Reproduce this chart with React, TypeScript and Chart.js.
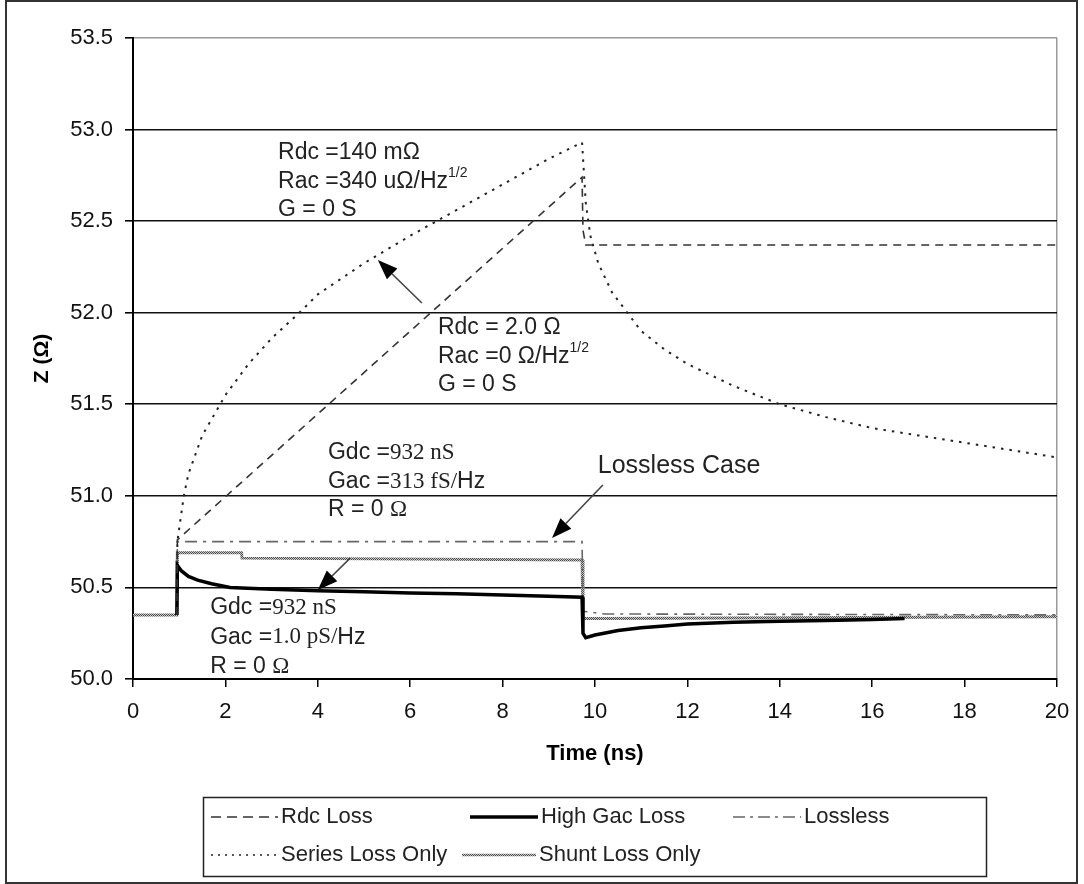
import React, { useEffect, useRef } from 'react';
import { Chart, registerables } from 'chart.js';
Chart.register(...registerables);

// ---- data (Time in ns, Z in ohms) ----
const rdcTime = [0.95, 0.96, 9.72, 9.74, 9.8, 20];
const rdcZ = [50.35, 50.76, 52.74, 52.45, 52.37, 52.37];

const hgTime = [0.95, 0.96, 1.05, 1.2, 1.4, 1.7, 2.1, 3.0, 4.0, 5.0, 6.0, 7.0, 8.0, 9.0, 9.72, 9.74, 9.8, 10.0, 10.5, 11.0, 11.5, 12.0, 13.0, 14.0, 15.0, 16.0, 16.7];
const hgZ = [50.35, 50.62, 50.59, 50.56, 50.54, 50.52, 50.5, 50.49, 50.482, 50.476, 50.47, 50.465, 50.458, 50.452, 50.447, 50.25, 50.225, 50.24, 50.265, 50.28, 50.29, 50.3, 50.31, 50.315, 50.32, 50.325, 50.33];

const losslessTime = [0.95, 0.96, 9.72, 9.74, 10.2, 20];
const losslessZ = [50.35, 50.75, 50.75, 50.37, 50.355, 50.35];

const seriesTime = [0.95, 0.96, 1.1, 1.2, 1.5, 2.0, 2.5, 3.0, 3.6, 4.0, 5.0, 6.0, 7.0, 8.0, 9.0, 9.72, 9.8, 9.9, 10.07, 10.37, 11.0, 11.5, 12.0, 13.0, 14.0, 15.0, 16.0, 17.0, 18.0, 19.0, 20.0];
const seriesZ = [50.35, 50.75, 51.0, 51.12, 51.33, 51.55, 51.72, 51.86, 52.0, 52.1, 52.27, 52.42, 52.56, 52.7, 52.84, 52.93, 52.6, 52.42, 52.27, 52.11, 51.9, 51.8, 51.72, 51.6, 51.5, 51.43, 51.37, 51.33, 51.29, 51.25, 51.21];

const shuntTime = [0, 0.95, 0.96, 2.35, 2.36, 9.72, 9.74, 10.0, 20];
const shuntZ = [50.35, 50.35, 50.69, 50.69, 50.66, 50.65, 50.33, 50.33, 50.34];

const seriesLabels = ['Rdc Loss', 'High Gac Loss', 'Lossless', 'Series Loss Only', 'Shunt Loss Only'];
const xTicks = [0, 2, 4, 6, 8, 10, 12, 14, 16, 18, 20];
const yTicks = ['50.0', '50.5', '51.0', '51.5', '52.0', '52.5', '53.0', '53.5'];

const SANS = '"Liberation Sans", Arial, sans-serif';
const SERIF = '"Liberation Serif", "Times New Roman", serif';

type Seg = { text: string; serif?: boolean; sup?: boolean };
type Note = { t: number; z: number; size: number; gap: number; lines: Seg[][] };

const notes: Note[] = [
  {
    t: 3.14, z: 52.872, size: 23, gap: 28.5,
    lines: [
      [{ text: 'Rdc =140 mΩ' }],
      [{ text: 'Rac =340 uΩ/Hz' }, { text: '1/2', sup: true }],
      [{ text: 'G = 0 S' }],
    ],
  },
  {
    t: 6.6, z: 51.917, size: 23, gap: 28.5,
    lines: [
      [{ text: 'Rdc = 2.0 Ω' }],
      [{ text: 'Rac =0 Ω/Hz' }, { text: '1/2', sup: true }],
      [{ text: 'G = 0 S' }],
    ],
  },
  {
    t: 4.22, z: 51.234, size: 23, gap: 28.5,
    lines: [
      [{ text: 'Gdc =' }, { text: '932 nS', serif: true }],
      [{ text: 'Gac =' }, { text: '313 fS/', serif: true }, { text: 'Hz' }],
      [{ text: 'R = 0 ' }, { text: 'Ω', serif: true }],
    ],
  },
  {
    t: 10.06, z: 51.163, size: 25, gap: 28,
    lines: [[{ text: 'Lossless Case' }]],
  },
  {
    t: 1.67, z: 50.388, size: 23, gap: 29.5,
    lines: [
      [{ text: 'Gdc =' }, { text: '932 nS', serif: true }],
      [{ text: 'Gac =' }, { text: '1.0 pS/', serif: true }, { text: 'Hz' }],
      [{ text: 'R = 0 ' }, { text: 'Ω', serif: true }],
    ],
  },
];

// arrows: from (t0,z0) to tip (t1,z1)
const arrows = [
  { t0: 6.253, z0: 52.053, t1: 5.3, z1: 52.288 },
  { t0: 10.17, z0: 51.059, t1: 9.07, z1: 50.77 },
  { t0: 4.7, z0: 50.66, t1: 4.0, z1: 50.486 },
];

function pts(t: number[], z: number[]) {
  return t.map((v, i) => ({ x: v, y: z[i] }));
}

function makePattern(ctx: CanvasRenderingContext2D) {
  const c = document.createElement('canvas');
  c.width = 2; c.height = 2;
  const p = c.getContext('2d')!;
  p.fillStyle = '#c8c8c8'; p.fillRect(0, 0, 2, 2);
  p.fillStyle = '#4a4a4a'; p.fillRect(0, 0, 1, 1); p.fillRect(1, 1, 1, 1);
  return ctx.createPattern(c, 'repeat')!;
}

const decorPlugin = {
  id: 'decor',
  afterDraw(chart: any) {
    const ctx: CanvasRenderingContext2D = chart.ctx;
    const xs = chart.scales.x, ys = chart.scales.y;
    ctx.save();
    // notes
    ctx.fillStyle = '#222';
    ctx.textBaseline = 'middle';
    ctx.textAlign = 'left';
    for (const n of notes) {
      const x0 = xs.getPixelForValue(n.t);
      const y0 = ys.getPixelForValue(n.z);
      n.lines.forEach((line, li) => {
        let x = x0;
        const y = y0 + li * n.gap;
        for (const s of line) {
          const sz = s.sup ? Math.round(n.size * 0.6) : n.size;
          ctx.font = `${sz}px ${s.serif ? SERIF : SANS}`;
          ctx.fillText(s.text, x, s.sup ? y - n.size * 0.38 : y);
          x += ctx.measureText(s.text).width;
        }
      });
    }
    // arrows
    for (const a of arrows) {
      const x0 = xs.getPixelForValue(a.t0), y0 = ys.getPixelForValue(a.z0);
      const x1 = xs.getPixelForValue(a.t1), y1 = ys.getPixelForValue(a.z1);
      const ang = Math.atan2(y1 - y0, x1 - x0);
      const L = 20, W = 7.5;
      const bx = x1 - L * Math.cos(ang), by = y1 - L * Math.sin(ang);
      ctx.strokeStyle = '#444';
      ctx.lineWidth = 1.6;
      ctx.setLineDash([]);
      ctx.beginPath(); ctx.moveTo(x0, y0); ctx.lineTo(bx, by); ctx.stroke();
      ctx.fillStyle = '#000';
      ctx.beginPath();
      ctx.moveTo(x1, y1);
      ctx.lineTo(bx + W * Math.sin(ang), by - W * Math.cos(ang));
      ctx.lineTo(bx - W * Math.sin(ang), by + W * Math.cos(ang));
      ctx.closePath(); ctx.fill();
    }
    // legend
    ctx.strokeStyle = '#222';
    ctx.lineWidth = 1.5;
    ctx.setLineDash([]);
    ctx.strokeRect(203.5, 797.5, 783, 79);
    const slots = [
      { x0: 211, x1: 278, y: 817 },
      { x0: 470, x1: 538, y: 817 },
      { x0: 733, x1: 801, y: 817 },
      { x0: 211, x1: 278, y: 855 },
      { x0: 462, x1: 536, y: 855 },
    ];
    const legendDash = [[10, 6], [], [12, 5, 3, 5], [2, 5], []];
    chart.data.datasets.forEach((ds: any, i: number) => {
      const s = slots[i];
      ctx.save();
      ctx.strokeStyle = ds.borderColor;
      ctx.lineWidth = i === 1 ? 3.5 : i === 4 ? 2.5 : 1.5;
      ctx.setLineDash(legendDash[i]);
      ctx.beginPath(); ctx.moveTo(s.x0, s.y); ctx.lineTo(s.x1, s.y); ctx.stroke();
      ctx.restore();
      ctx.fillStyle = '#222';
      ctx.font = `22px ${SANS}`;
      ctx.textBaseline = 'middle';
      ctx.fillText(ds.label, s.x1 + 3, s.y);
    });
    // outer border
    ctx.strokeStyle = '#333';
    ctx.lineWidth = 2;
    ctx.strokeRect(6, 1, 1071, 882);
    ctx.restore();
  },
};

export default function App() {
  const ref = useRef<HTMLCanvasElement>(null);
  useEffect(() => {
    document.body.style.margin = '0';
    const canvas = ref.current!;
    const ctx = canvas.getContext('2d')!;
    const pattern = makePattern(ctx);
    const chart = new Chart(canvas, {
      type: 'line',
      data: {
        datasets: [
          { label: seriesLabels[0], data: pts(rdcTime, rdcZ), borderColor: '#333', borderWidth: 1.6, borderDash: [8, 6] },
          { label: seriesLabels[1], data: pts(hgTime, hgZ), borderColor: '#000', borderWidth: 3.5 },
          { label: seriesLabels[2], data: pts(losslessTime, losslessZ), borderColor: '#666', borderWidth: 1.6, borderDash: [12, 6, 3, 6] },
          { label: seriesLabels[3], data: pts(seriesTime, seriesZ), borderColor: '#222', borderWidth: 2, borderDash: [2.5, 6] },
          { label: seriesLabels[4], data: pts(shuntTime, shuntZ), borderColor: pattern as any, borderWidth: 3 },
        ] as any,
      },
      options: {
        animation: false,
        responsive: false,
        devicePixelRatio: 1,
        layout: { padding: { left: 0, top: 38, right: 27, bottom: 105 } },
        elements: { point: { radius: 0 }, line: { tension: 0, fill: false } },
        plugins: { legend: { display: false }, tooltip: { enabled: false } },
        scales: {
          x: {
            type: 'linear',
            min: 0,
            max: 20,
            afterBuildTicks: (s: any) => { s.ticks = xTicks.map((v) => ({ value: v })); },
            afterFit: (s: any) => { s.height = 100; },
            ticks: { color: '#111', font: { family: SANS, size: 22 }, padding: 12, maxRotation: 0, autoSkip: false },
            grid: {
              drawOnChartArea: true,
              color: (c: any) => (c.tick && c.tick.value === 20 ? '#999' : 'rgba(0,0,0,0)'),
              tickColor: '#000',
              lineWidth: 1.5,
              tickLength: 8,
            },
            border: { color: '#000', width: 2 },
            title: { display: true, text: 'Time (ns)', color: '#000', font: { family: SANS, size: 22, weight: 'bold' }, padding: { top: 0, bottom: 12 } },
          },
          y: {
            type: 'linear',
            min: 50,
            max: 53.5,
            afterBuildTicks: (s: any) => { s.ticks = yTicks.map((v) => ({ value: parseFloat(v) })); },
            afterFit: (s: any) => { s.width = 133; },
            ticks: {
              color: '#111',
              font: { family: SANS, size: 22 },
              padding: 12,
              callback: (v: any) => yTicks.find((t) => parseFloat(t) === v) ?? '',
            },
            grid: {
              color: (c: any) => (c.tick && c.tick.value === 53.5 ? '#999' : '#111'),
              tickColor: '#000',
              lineWidth: 1.6,
              tickLength: 8,
            },
            border: { color: '#000', width: 2 },
            title: { display: true, text: 'Z (Ω)', color: '#000', font: { family: SANS, size: 21, weight: 'bold' }, padding: { top: 30, bottom: 0 } },
          },
        },
      } as any,
      plugins: [decorPlugin],
    });
    return () => chart.destroy();
  }, []);
  return (
    <div style={{ width: 1084, height: 884 }}>
      <canvas ref={ref} width={1084} height={884} style={{ display: 'block' }} />
    </div>
  );
}
